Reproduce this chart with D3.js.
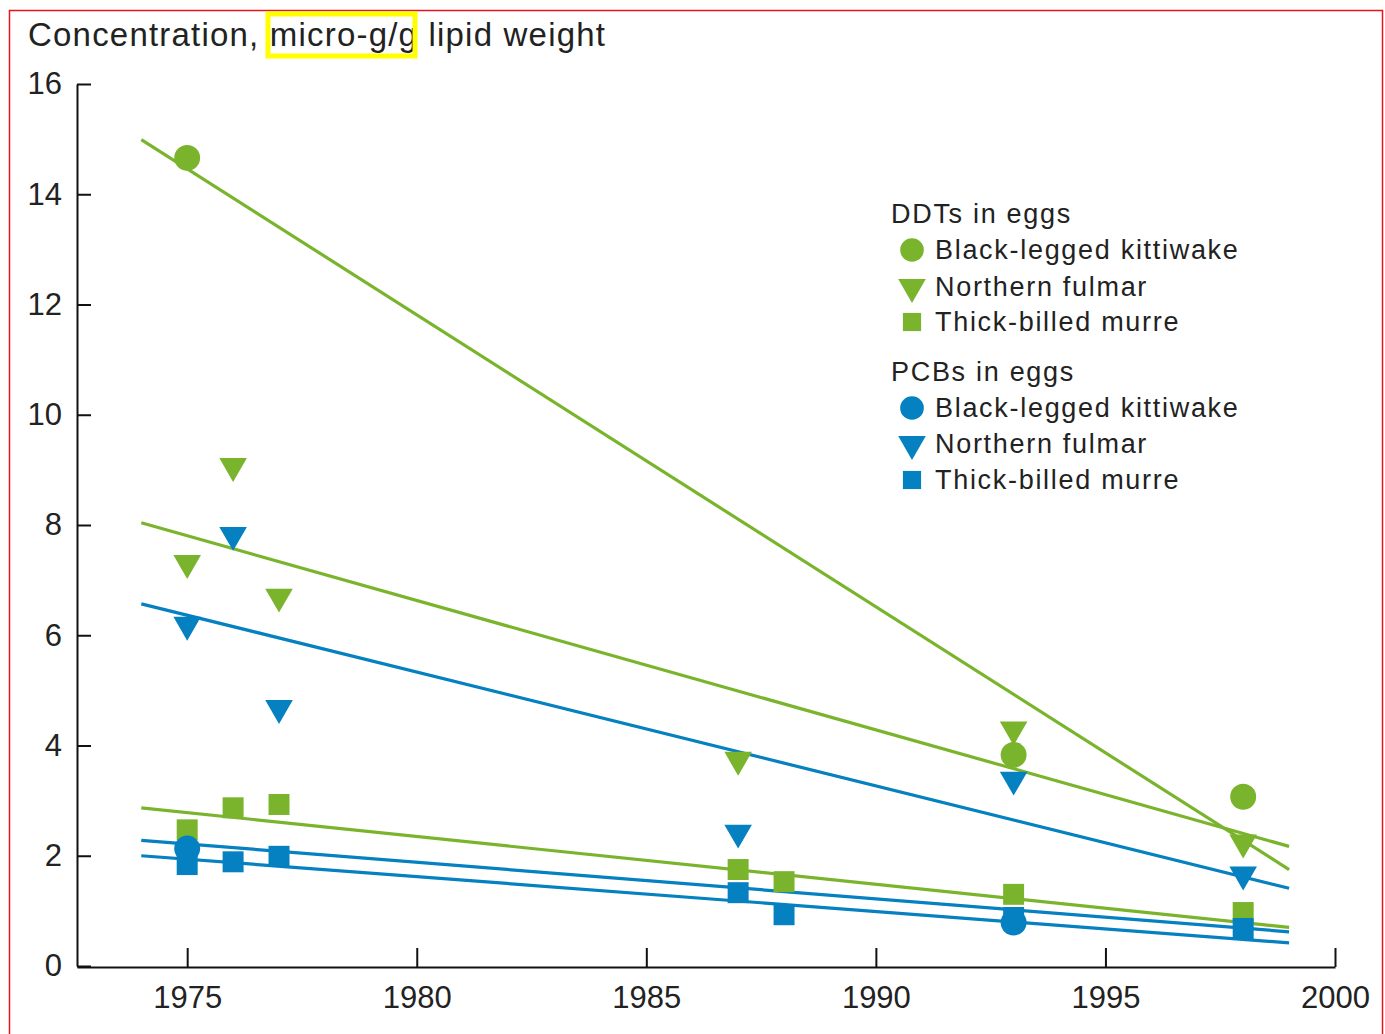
<!DOCTYPE html>
<html lang="en">
<head>
    <meta charset="UTF-8">
    <title>DDTs and PCBs in seabird eggs</title>
    <script src="https://d3js.org/d3.v7.min.js"></script>
    <style>
        body {
            margin: 0;
            background: #fff;
            overflow: hidden;
        }
        svg {
            display: block;
            font-family: 'Liberation Sans', Arial, sans-serif;
        }
        .axis path, .axis line {
            stroke: #111;
            stroke-width: 2;
        }
        .axis text {
            fill: #222;
            font-size: 31px;
        }
        .legend text {
            fill: #222;
            font-size: 27px;
            letter-spacing: 1.7px;
        }
    </style>
</head>
<body>
    <svg></svg>

    <script>
        // Values (year, micro-g/g lipid weight)
        const ddtKittiwake = [[1975, 14.66], [1993, 3.83], [1998, 3.07]];
        const ddtFulmar = [[1975, 7.31], [1976, 9.07], [1977, 6.70], [1987, 3.74], [1993, 4.29], [1998, 2.24]];
        const ddtMurre = [[1975, 2.47], [1976, 2.87], [1977, 2.93], [1987, 1.75], [1988, 1.53], [1993, 1.30], [1998, 0.97]];
        const pcbKittiwake = [[1975, 2.13], [1993, 0.79]];
        const pcbFulmar = [[1975, 6.19], [1976, 7.82], [1977, 4.68], [1987, 2.42], [1993, 3.38], [1998, 1.66]];
        const pcbMurre = [[1975, 1.84], [1976, 1.89], [1977, 1.99], [1987, 1.33], [1988, 0.93], [1993, 0.88], [1998, 0.68]];

        // Trend lines: [year, value] at each end
        const ddtKittiwakeTrend = [[1974, 14.99], [1999, 1.75]];
        const ddtFulmarTrend = [[1974, 8.04], [1999, 2.17]];
        const ddtMurreTrend = [[1974, 2.87], [1999, 0.70]];
        const pcbKittiwakeTrend = [[1974, 2.28], [1999, 0.62]];
        const pcbFulmarTrend = [[1974, 6.57], [1999, 1.41]];
        const pcbMurreTrend = [[1974, 2.00], [1999, 0.42]];

        const xTicks = [1975, 1980, 1985, 1990, 1995, 2000];
        const yTicks = [0, 2, 4, 6, 8, 10, 12, 14, 16];
        const species = ["Black-legged kittiwake", "Northern fulmar", "Thick-billed murre"];
        const groups = ["DDTs in eggs", "PCBs in eggs"];

        const green = "#7ab42d";
        const blue = "#0580c0";

        const width = 1385, height = 1034;
        const svg = d3.select("svg").attr("width", width).attr("height", height);

        const x = d3.scaleLinear().domain([1972.6, 2000]).range([77, 1335]);
        const y = d3.scaleLinear().domain([0, 16]).range([966, 84]);

        // red frame round the picture
        svg.append("rect")
            .attr("x", 9.5).attr("y", 10.5)
            .attr("width", 1373).attr("height", 1040)
            .attr("fill", "none")
            .attr("stroke", "#e8141b")
            .attr("stroke-width", 1.5);

        // title
        svg.append("text")
            .attr("x", 28).attr("y", 46)
            .attr("font-size", 33)
            .attr("letter-spacing", 1.2)
            .attr("fill", "#222")
            .text("Concentration, micro-g/g lipid weight");

        // yellow highlight box
        svg.append("rect")
            .attr("x", 268).attr("y", 14)
            .attr("width", 147).attr("height", 42)
            .attr("fill", "none")
            .attr("stroke", "#ffff00")
            .attr("stroke-width", 5);

        // axes
        svg.append("g")
            .attr("class", "axis")
            .attr("transform", "translate(77,0)")
            .call(d3.axisLeft(y).tickValues(yTicks).tickSizeInner(-14).tickSizeOuter(0).tickPadding(15));

        svg.append("g")
            .attr("class", "axis")
            .attr("transform", "translate(0,967)")
            .call(d3.axisBottom(x).tickValues(xTicks).tickFormat(d3.format("d"))
                .tickSizeInner(-19).tickSizeOuter(0).tickPadding(19));

        // markers
        const shapes = [d3.symbolCircle, d3.symbolTriangle, d3.symbolSquare];
        const sizes = [530, 330, 440];
        function marker(shape, i) {
            return d3.symbol().type(shape).size(sizes[i]);
        }

        const series = [
            { pts: ddtKittiwake, trend: ddtKittiwakeTrend, color: green, s: 0 },
            { pts: ddtFulmar, trend: ddtFulmarTrend, color: green, s: 1 },
            { pts: ddtMurre, trend: ddtMurreTrend, color: green, s: 2 },
            { pts: pcbKittiwake, trend: pcbKittiwakeTrend, color: blue, s: 0 },
            { pts: pcbFulmar, trend: pcbFulmarTrend, color: blue, s: 1 },
            { pts: pcbMurre, trend: pcbMurreTrend, color: blue, s: 2 }
        ];

        const line = d3.line().x(d => x(d[0])).y(d => y(d[1]));

        svg.append("g").selectAll("path")
            .data(series)
            .join("path")
            .attr("d", d => line(d.trend))
            .attr("fill", "none")
            .attr("stroke", d => d.color)
            .attr("stroke-width", 3.2);

        series.forEach(sr => {
            svg.append("g").selectAll("path")
                .data(sr.pts)
                .join("path")
                .attr("d", marker(shapes[sr.s], sr.s))
                .attr("fill", sr.color)
                .attr("transform", d => `translate(${x(d[0])},${y(d[1])})` + (sr.s === 1 ? " rotate(180)" : ""));
        });

        // legend
        const legend = svg.append("g").attr("class", "legend");
        const groupY = [223, 381];
        const rowY = [[250, 287, 322], [408, 444, 480]];
        groups.forEach((g, gi) => {
            legend.append("text").attr("x", 891).attr("y", groupY[gi]).text(g);
            species.forEach((sp, si) => {
                legend.append("path")
                    .attr("d", d3.symbol().type(shapes[si]).size([440, 330, 330][si]))
                    .attr("fill", gi === 0 ? green : blue)
                    .attr("transform", `translate(912,${rowY[gi][si]})` + (si === 1 ? " rotate(180)" : ""));
                legend.append("text")
                    .attr("x", 935).attr("y", rowY[gi][si] + 9)
                    .text(sp);
            });
        });
    </script>
</body>
</html>
